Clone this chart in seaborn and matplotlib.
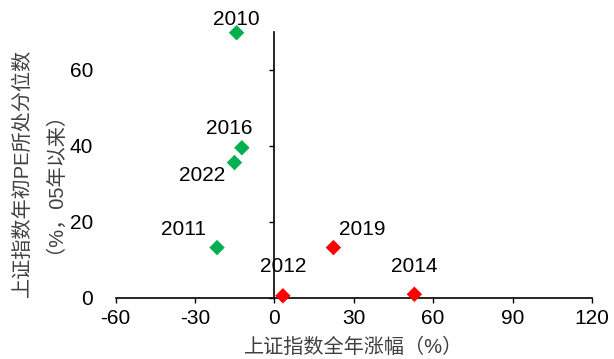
import matplotlib
matplotlib.use("Agg")
import matplotlib.pyplot as plt
import seaborn as sns
import pandas as pd

years = ["2010", "2011", "2012", "2014", "2016", "2019", "2022"]
annual_return = [-14.3, -21.7, 3.2, 52.9, -12.3, 22.3, -15.1]
pe_percentile = [69.8, 13.2, 0.5, 0.9, 39.5, 13.2, 35.6]
group = ["down", "down", "up", "up", "down", "up", "down"]

x_ticks = [-60, -30, 0, 30, 60, 90, 120]
y_ticks = [0, 20, 40, 60]

# label offsets in points (dx, dy)
label_offsets = {
    "2010": (0, 9.5),
    "2011": (-24, 13),
    "2012": (0, 21),
    "2014": (0, 20),
    "2016": (-9, 14),
    "2019": (21, 13),
    "2022": (-23.5, -9),
}

sns.set_style("white")
plt.rcParams["font.family"] = ["Liberation Sans", "Noto Sans CJK SC"]
plt.rcParams["axes.unicode_minus"] = False

df = pd.DataFrame({"year": years, "ret": annual_return,
                   "pe": pe_percentile, "group": group})

fig = plt.figure(figsize=(6.14, 3.59), dpi=100)
ax = fig.add_axes([0.1884, 0.1708, 0.7756, 0.7401])

sns.scatterplot(data=df, x="ret", y="pe", hue="group",
                palette={"down": "#00B050", "up": "#FF0000"},
                marker="D", s=62, linewidth=0, legend=False, ax=ax,
                zorder=3, clip_on=False)

for yr, xv, yv in zip(years, annual_return, pe_percentile):
    dx, dy = label_offsets[yr]
    ax.annotate(yr, (xv, yv), xytext=(dx, dy), textcoords="offset points",
                ha="center", va="center", fontsize=15, color="black")

ax.set_xlim(-60, 120)
ax.set_ylim(0, 70)
ax.set_xticks(x_ticks)
ax.set_yticks(y_ticks)
ax.tick_params(axis="x", direction="out", length=3.5, width=1, pad=5,
               labelsize=15, colors="black", bottom=True)
ax.tick_params(axis="y", direction="out", length=3.5, width=1, pad=127,
               labelsize=15, colors="black", left=True)

ax.spines["left"].set_position(("data", 0))
ax.spines["bottom"].set_position(("data", 0))
for side in ["top", "right"]:
    ax.spines[side].set_visible(False)
for side in ["left", "bottom"]:
    ax.spines[side].set_color("black")
    ax.spines[side].set_linewidth(1.2)

ax.set_xlabel("上证指数全年涨幅（%）", fontsize=14.5, color="#404040")
ax.set_ylabel("上证指数年初PE所处分位数\n（%，05年以来）", fontsize=14.5,
              color="#404040", linespacing=1.15)
ax.xaxis.set_label_coords(0.5, -0.15)
ax.yaxis.set_label_coords(-0.13, 0.47)

fig.savefig("out.png", dpi=100)
